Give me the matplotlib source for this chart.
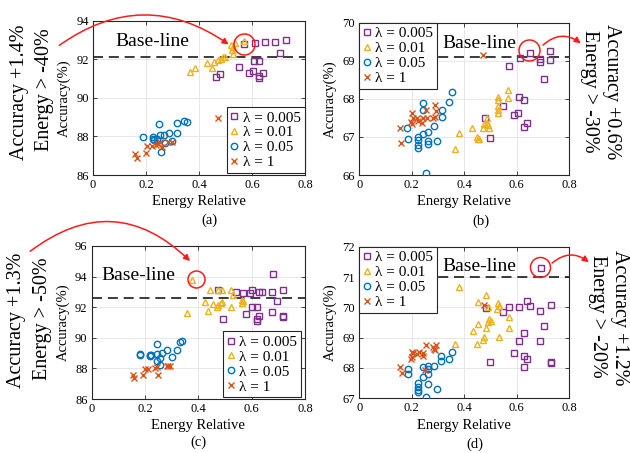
import matplotlib
matplotlib.use("Agg")
import matplotlib.pyplot as plt
from matplotlib.patches import FancyArrowPatch

plt.rcParams["font.family"] = ["Liberation Serif", "DejaVu Serif"]

PURPLE = "#7E2F8E"
YELLOW = "#EDB120"
BLUE = "#0072BD"
ORANGE = "#D95319"
HIGHLIGHT = "#FF1A1A"

labels = ["λ = 0.005", "λ = 0.01", "λ = 0.05", "λ = 1"]
x_ticks = [0, 0.2, 0.4, 0.6, 0.8]
x_tick_labels = ["0", "0.2", "0.4", "0.6", "0.8"]

# ---- panel (a) ----
a_sq_x = [0.571, 0.611, 0.649, 0.687, 0.727, 0.706, 0.609, 0.628, 0.550, 0.603,
          0.589, 0.640, 0.626, 0.626, 0.480, 0.463]
a_sq_y = [92.77, 92.83, 92.91, 92.91, 93.00, 92.31, 91.91, 91.91, 91.62, 91.41,
          91.31, 91.31, 91.13, 91.05, 91.24, 91.10]
a_tri_x = [0.366, 0.385, 0.429, 0.448, 0.457, 0.473, 0.482, 0.492, 0.498, 0.530,
           0.523, 0.530, 0.536, 0.571, 0.519]
a_tri_y = [91.36, 91.53, 91.79, 91.53, 91.87, 91.96, 92.00, 92.10, 92.13, 92.26,
           92.48, 92.65, 92.86, 92.96, 92.74]
a_ci_x = [0.187, 0.225, 0.225, 0.230, 0.249, 0.253, 0.257, 0.268, 0.272, 0.288,
          0.299, 0.316, 0.316, 0.345, 0.356, 0.240]
a_ci_y = [87.95, 87.85, 87.95, 87.82, 88.63, 88.07, 87.21, 88.07, 87.64, 88.19,
          87.78, 88.72, 88.19, 88.82, 88.77, 87.85]
a_x_x = [0.158, 0.165, 0.199, 0.205, 0.221, 0.238, 0.247, 0.253, 0.259, 0.282,
         0.297, 0.473]
a_x_y = [87.09, 86.87, 87.12, 87.52, 87.52, 87.56, 87.61, 87.73, 87.47, 87.73,
         87.73, 88.94]

# ---- panel (b) ----
b_sq_x = [0.650, 0.611, 0.728, 0.728, 0.688, 0.688, 0.572, 0.703, 0.610, 0.627,
          0.549, 0.604, 0.588, 0.480, 0.638, 0.627, 0.498]
b_sq_y = [69.21, 69.06, 69.26, 69.02, 69.05, 68.98, 68.86, 68.52, 68.04, 67.97,
          67.81, 67.63, 67.58, 67.49, 67.36, 67.27, 66.96]
b_tri_x = [0.568, 0.530, 0.568, 0.530, 0.530, 0.530, 0.530, 0.485, 0.492, 0.475,
           0.473, 0.495, 0.428, 0.381, 0.447, 0.451, 0.457, 0.365, 0.488]
b_tri_y = [68.23, 68.06, 68.03, 67.97, 67.81, 67.72, 67.62, 67.36, 67.31, 67.34,
           67.23, 67.23, 67.23, 67.11, 67.01, 66.94, 66.94, 66.68, 67.49]
b_ci_x = [0.352, 0.342, 0.244, 0.244, 0.314, 0.314, 0.286, 0.263, 0.244, 0.225,
          0.225, 0.225, 0.225, 0.185, 0.263, 0.263, 0.295, 0.253, 0.183]
b_ci_y = [68.19, 67.93, 67.88, 67.72, 67.71, 67.53, 67.29, 67.14, 67.07, 67.01,
          66.92, 66.79, 66.72, 66.94, 66.88, 66.81, 66.90, 66.04, 67.24]
b_x_x = [0.155, 0.161, 0.200, 0.206, 0.197, 0.200, 0.219, 0.225, 0.238, 0.244,
         0.254, 0.257, 0.288, 0.292, 0.288, 0.282, 0.473]
b_x_y = [67.24, 66.83, 67.62, 67.51, 67.40, 67.34, 67.49, 67.43, 67.36, 67.49,
         67.72, 67.51, 67.84, 67.69, 67.53, 67.49, 69.15]

# ---- panel (c) ----
c_sq_x = [0.681, 0.716, 0.678, 0.628, 0.640, 0.600, 0.594, 0.540, 0.566, 0.475,
          0.696, 0.600, 0.619, 0.579, 0.678, 0.629, 0.619, 0.619, 0.716, 0.716,
          0.491]
c_sq_y = [94.15, 93.12, 93.02, 93.02, 93.02, 93.12, 92.91, 93.02, 92.91, 93.12,
          92.41, 91.99, 91.99, 91.53, 91.71, 91.42, 91.21, 91.12, 91.42, 91.34,
          91.21]
c_tri_x = [0.375, 0.359, 0.444, 0.475, 0.488, 0.523, 0.531, 0.563, 0.563, 0.425,
           0.456, 0.475, 0.484, 0.488, 0.469, 0.438, 0.523, 0.566]
c_tri_y = [93.78, 91.60, 93.12, 93.12, 93.12, 93.12, 92.80, 92.47, 92.25, 92.36,
           92.19, 92.14, 92.25, 92.36, 92.03, 91.75, 92.03, 92.41]
c_ci_x = [0.181, 0.181, 0.219, 0.222, 0.219, 0.244, 0.244, 0.256, 0.262, 0.281,
          0.300, 0.319, 0.331, 0.338, 0.256, 0.244]
c_ci_y = [88.90, 88.95, 88.80, 88.85, 88.90, 89.60, 88.95, 88.70, 89.00, 89.20,
          88.75, 89.20, 89.75, 89.78, 88.20, 88.50]
c_x_x = [0.156, 0.159, 0.194, 0.200, 0.213, 0.238, 0.244, 0.250, 0.281, 0.288,
         0.294]
c_x_y = [87.55, 87.40, 87.60, 87.98, 87.98, 88.00, 88.10, 87.55, 88.15, 88.15,
         88.15]

# ---- panel (d) ----
d_sq_x = [0.691, 0.638, 0.650, 0.610, 0.572, 0.549, 0.482, 0.688, 0.729, 0.703,
          0.627, 0.609, 0.688, 0.589, 0.627, 0.638, 0.498, 0.729, 0.729, 0.627]
d_sq_y = [71.31, 70.21, 70.04, 70.00, 70.00, 69.86, 69.97, 69.89, 70.08, 69.40,
          69.14, 68.89, 68.89, 68.48, 68.41, 68.30, 68.21, 68.21, 68.18, 68.04]
d_tri_x = [0.381, 0.482, 0.451, 0.530, 0.534, 0.524, 0.492, 0.572, 0.495, 0.492,
           0.501, 0.454, 0.572, 0.483, 0.432, 0.477, 0.473, 0.531, 0.447, 0.365]
d_tri_y = [70.68, 70.41, 70.19, 70.13, 70.04, 69.95, 70.02, 69.67, 69.60, 69.53,
           69.56, 69.44, 69.33, 69.33, 69.23, 69.03, 68.92, 69.03, 68.79, 68.79]
d_ci_x = [0.352, 0.342, 0.312, 0.312, 0.285, 0.263, 0.263, 0.244, 0.244, 0.225,
          0.225, 0.225, 0.225, 0.185, 0.185, 0.263, 0.263, 0.297, 0.253]
d_ci_y = [68.54, 68.29, 68.41, 68.24, 68.07, 68.07, 67.96, 68.02, 67.71, 67.52,
          67.38, 67.27, 67.20, 67.96, 67.80, 67.79, 67.47, 67.31, 67.05]
d_x_x = [0.155, 0.164, 0.200, 0.206, 0.200, 0.197, 0.219, 0.229, 0.242, 0.254,
         0.244, 0.282, 0.292, 0.288, 0.286, 0.250, 0.477]
d_x_y = [68.02, 67.85, 68.54, 68.48, 68.35, 68.29, 68.46, 68.54, 68.51, 68.76,
         68.40, 68.70, 68.76, 68.59, 68.62, 67.93, 70.08]

baselines = [92.13, 69.10, 92.60, 71.00]
highlights = [(0.571, 92.79), (0.648, 69.27), (0.391, 93.82), (0.689, 71.33)]
highlight_px = [21, 21, 17, 20]

fig = plt.figure(figsize=(6.3, 4.53), dpi=100)
W, H = 630, 453


def fx(px):
    return px / W


def fy(py):
    return 1 - py / H


def panel(rect, series, ylim, yticks, baseline, base_xy, leg_loc, leg_anchor,
          hl, hl_px, tag, tag_xy):
    ax = fig.add_axes(rect)
    sq, tri, ci, xx = series
    ax.plot(sq[0], sq[1], ls="none", marker="s", ms=3.8, mfc="none",
            mec=PURPLE, mew=1.0, label=labels[0], zorder=3)
    ax.plot(tri[0], tri[1], ls="none", marker="^", ms=5.0, mfc="none",
            mec=YELLOW, mew=1.0, label=labels[1], zorder=3)
    ax.plot(ci[0], ci[1], ls="none", marker="o", ms=4.6, mfc="none",
            mec=BLUE, mew=1.0, label=labels[2], zorder=3)
    ax.plot(xx[0], xx[1], ls="none", marker="x", ms=4.0, color=ORANGE,
            mew=1.0, label=labels[3], zorder=3)
    ax.axhline(baseline, color="#1a1a1a", lw=1.2, ls=(0, (6, 3.5)), zorder=2)
    ax.plot([hl[0]], [hl[1]], ls="none", marker="o", ms=hl_px * 0.72,
            mfc="none", mec=HIGHLIGHT, mew=1.1, zorder=4)
    ax.text(base_xy[0], base_xy[1], "Base-line", fontsize=14, ha="left",
            va="center", zorder=5)
    ax.set_xlim(0, 0.8)
    ax.set_ylim(*ylim)
    ax.set_xticks(x_ticks)
    ax.set_xticklabels(x_tick_labels)
    ax.set_yticks(yticks)
    ax.tick_params(direction="in", length=3, width=0.6, labelsize=9,
                   top=True, right=True, color="#262626", pad=3)
    ax.grid(True, color="#e3e3e3", lw=0.6, zorder=0)
    ax.set_axisbelow(True)
    for s in ax.spines.values():
        s.set_color("#262626")
        s.set_linewidth(0.8)
    ax.set_xlabel("Energy Relative", fontsize=10.5, labelpad=3)
    ax.set_ylabel("Accuracy(%)", fontsize=10.5, labelpad=4)
    leg = ax.legend(loc=leg_loc, bbox_to_anchor=leg_anchor, fontsize=11,
                    handlelength=0.5, handletextpad=0.3, borderpad=0.25,
                    labelspacing=0.08, borderaxespad=0.0, fancybox=False,
                    framealpha=1, edgecolor="#262626")
    leg.get_frame().set_linewidth(0.8)
    leg.set_zorder(6)
    fig.text(fx(tag_xy[0]), fy(tag_xy[1]), tag, fontsize=10.5,
             ha="center", va="center")
    return ax


ax_a = panel([fx(93), fy(175), fx(212), 154.3 / H],
             [(a_sq_x, a_sq_y), (a_tri_x, a_tri_y), (a_ci_x, a_ci_y), (a_x_x, a_x_y)],
             (86, 94), [86, 88, 90, 92, 94], baselines[0], (0.083, 92.9),
             "lower right", (0.998, 0.012), highlights[0], highlight_px[0],
             "(a)", (209, 220))
ax_b = panel([fx(359.2), fy(175), fx(210.1), 152.3 / H],
             [(b_sq_x, b_sq_y), (b_tri_x, b_tri_y), (b_ci_x, b_ci_y), (b_x_x, b_x_y)],
             (66, 70), [66, 67, 68, 69, 70], baselines[1], (0.318, 69.46),
             "upper left", (0.0, 1.0), highlights[1], highlight_px[1],
             "(b)", (481, 221))
ax_c = panel([fx(91.7), fy(399), fx(213.3), 153 / H],
             [(c_sq_x, c_sq_y), (c_tri_x, c_tri_y), (c_ci_x, c_ci_y), (c_x_x, c_x_y)],
             (86, 96), [86, 88, 90, 92, 94, 96], baselines[2], (0.0375, 94.06),
             "lower right", (0.982, 0.01), highlights[2], highlight_px[2],
             "(c)", (198, 442))
ax_d = panel([fx(359.2), fy(398.3), fx(210.1), 151.6 / H],
             [(d_sq_x, d_sq_y), (d_tri_x, d_tri_y), (d_ci_x, d_ci_y), (d_x_x, d_x_y)],
             (67, 72), [67, 68, 69, 70, 71, 72], baselines[3], (0.318, 71.34),
             "upper left", (0.0, 1.0), highlights[3], highlight_px[3],
             "(d)", (475, 444))

# side annotations
side_texts = [
    ("Accuracy +1.4%", 20, 92, 90),
    ("Energy > -40%", 44, 90, 90),
    ("Accuracy +1.3%", 17, 320, 90),
    ("Energy > -50%", 42, 319, 90),
    ("Accuracy +0.6%", 611, 92, 270),
    ("Energy > -30%", 590, 91, 270),
    ("Accuracy +1.2%", 620, 318, 270),
    ("Energy > -20%", 597, 316, 270),
]
for txt, px, py, rot in side_texts:
    fig.text(fx(px), fy(py), txt, fontsize=14.5, rotation=rot,
             ha="center", va="center")

arrows = [
    ((57, 47), (231, 46), -0.36),
    ((28, 253), (192, 263), -0.44),
    ((541, 47), (583, 45), -0.45),
    ((550, 265), (591, 264), -0.45),
]
for (x0, y0), (x1, y1), rad in arrows:
    fig.patches.append(FancyArrowPatch(
        (fx(x0), fy(y0)), (fx(x1), fy(y1)), transform=fig.transFigure,
        connectionstyle=f"arc3,rad={rad}", arrowstyle="-|>",
        mutation_scale=9, color=HIGHLIGHT, lw=1.1, zorder=10))

fig.savefig("out.png", dpi=100)
